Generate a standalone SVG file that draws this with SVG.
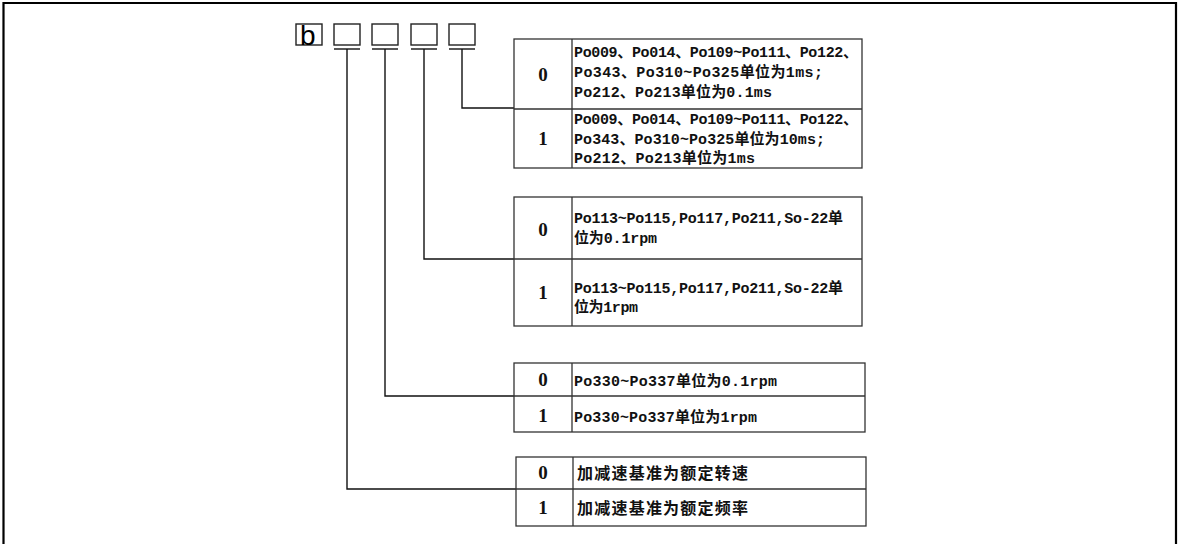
<svg xmlns="http://www.w3.org/2000/svg" width="1184" height="544" viewBox="0 0 1184 544">
<style>
.frame{fill:none;stroke:#000;stroke-width:2.2}
.box{fill:none;stroke:#222;stroke-width:1.4}
.tb{fill:#fff;stroke:#333;stroke-width:1.3}
.ln{fill:none;stroke:#333;stroke-width:1.3}
.con{fill:none;stroke:#111;stroke-width:1.4}
.dg{font-family:"Liberation Serif","Noto Sans CJK SC",serif;font-size:19px;font-weight:bold;fill:#111;text-anchor:middle}
.tx{font-family:"Liberation Mono","Noto Sans CJK SC",monospace;font-size:15px;font-weight:bold;fill:#111}
.cj{font-family:"Noto Sans CJK SC",sans-serif;font-size:16px;font-weight:bold;fill:#111}
.bl{font-family:"Liberation Sans",Arial,sans-serif;font-size:28px;fill:#000}
</style>
<path class="frame" d="M3.5,544 V3 H1176 V544"/>
<g id="code-boxes">
<rect class="box" x="296" y="24" width="26" height="21"/>
<text class="bl" x="300" y="45">b</text>
<rect class="box" x="334" y="24" width="26" height="21"/>
<rect class="box" x="372" y="24" width="26" height="21"/>
<rect class="box" x="411" y="24" width="26" height="21"/>
<rect class="box" x="449" y="24" width="26" height="21"/>
<path class="box" d="M334,49 H360 M372,49 H398 M411,49 H437 M449,49 H475"/>
</g>
<g id="connectors">
<path class="con" d="M462,49 V108 H514"/>
<path class="con" d="M424,49 V259 H514"/>
<path class="con" d="M385,49 V396 H514"/>
<path class="con" d="M347,49 V489 H516"/>
</g>
<g id="table-digit4">
<rect class="tb" x="514" y="39" width="348" height="129"/>
<path class="ln" d="M572,39 V168 M514,109 H862"/>
<text class="dg" x="543" y="81">0</text>
<text class="dg" x="543" y="145">1</text>
<text class="tx" x="574" y="57" textLength="284" lengthAdjust="spacing">Po009、Po014、Po109~Po111、Po122、</text>
<text class="tx" x="574" y="77" textLength="249" lengthAdjust="spacing">Po343、Po310~Po325单位为1ms;</text>
<text class="tx" x="574" y="97" textLength="198" lengthAdjust="spacing">Po212、Po213单位为0.1ms</text>
<text class="tx" x="574" y="124" textLength="284" lengthAdjust="spacing">Po009、Po014、Po109~Po111、Po122、</text>
<text class="tx" x="574" y="144" textLength="251" lengthAdjust="spacing">Po343、Po310~Po325单位为10ms;</text>
<text class="tx" x="574" y="163" textLength="181" lengthAdjust="spacing">Po212、Po213单位为1ms</text>
</g>
<g id="table-digit3">
<rect class="tb" x="514" y="197" width="348" height="129"/>
<path class="ln" d="M572,197 V326 M514,259 H862"/>
<text class="dg" x="543" y="236">0</text>
<text class="dg" x="543" y="299">1</text>
<text class="tx" x="574" y="223" textLength="269" lengthAdjust="spacing">Po113~Po115,Po117,Po211,So-22单</text>
<text class="tx" x="574" y="243" textLength="83" lengthAdjust="spacing">位为0.1rpm</text>
<text class="tx" x="574" y="293" textLength="269" lengthAdjust="spacing">Po113~Po115,Po117,Po211,So-22单</text>
<text class="tx" x="574" y="312" textLength="64" lengthAdjust="spacing">位为1rpm</text>
</g>
<g id="table-digit2">
<rect class="tb" x="514" y="363" width="351" height="69"/>
<path class="ln" d="M572,363 V432 M514,396 H865"/>
<text class="dg" x="543" y="386">0</text>
<text class="dg" x="543" y="422">1</text>
<text class="tx" x="574" y="386" textLength="203" lengthAdjust="spacing">Po330~Po337单位为0.1rpm</text>
<text class="tx" x="574" y="422" textLength="183" lengthAdjust="spacing">Po330~Po337单位为1rpm</text>
</g>
<g id="table-digit1">
<rect class="tb" x="516" y="457" width="350" height="69"/>
<path class="ln" d="M573,457 V526 M516,489 H866"/>
<text class="dg" x="543" y="479">0</text>
<text class="dg" x="543" y="514">1</text>
<text class="cj" x="577" y="479" textLength="171" lengthAdjust="spacing">加减速基准为额定转速</text>
<text class="cj" x="577" y="514" textLength="171" lengthAdjust="spacing">加减速基准为额定频率</text>
</g>
</svg>
